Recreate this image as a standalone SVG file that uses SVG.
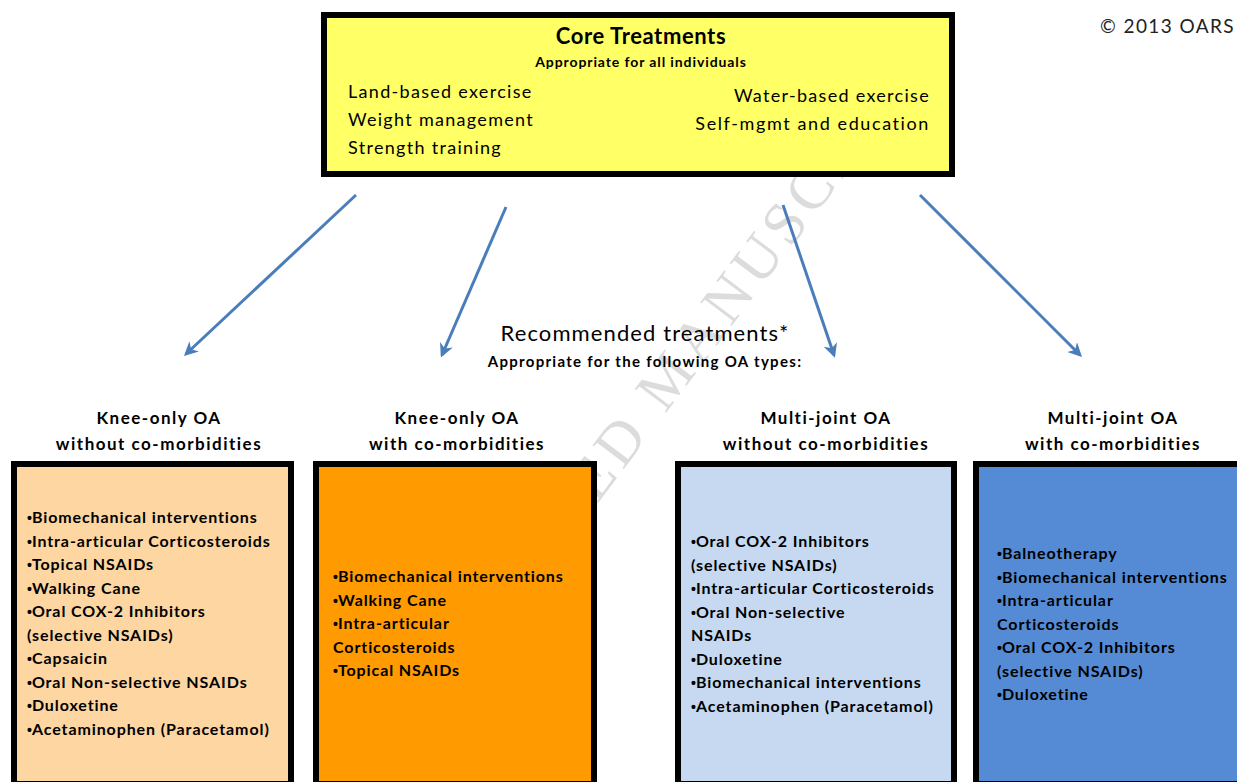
<svg xmlns="http://www.w3.org/2000/svg" width="1237" height="782" viewBox="0 0 1237 782">
<defs>
<style>
text{font-family:Lato,"Noto Sans","Liberation Sans",sans-serif;fill:#000}
.wm{font-family:"Liberation Serif",serif;font-size:60px;fill:#dcdcdc;letter-spacing:6px}
.h{font-size:17px;font-weight:bold;text-anchor:middle;letter-spacing:1.5px}
.li{font-size:16px;font-weight:bold;letter-spacing:0.9px}
.b{font-family:"Liberation Sans",sans-serif;font-size:14px;letter-spacing:0}
.core{font-size:18px;letter-spacing:1.3px}
.box{stroke:#000;stroke-width:6}
.arr{stroke:#4a7ebb;stroke-width:3;fill:none;marker-end:url(#ah)}
</style>
<marker id="ah" viewBox="0 0 10 10" refX="8" refY="5" markerWidth="14" markerHeight="14" markerUnits="userSpaceOnUse" orient="auto">
<path d="M0,0 L10,5 L0,10 L3,5 z" fill="#4a7ebb"/>
</marker>
</defs>
<rect width="1237" height="782" fill="#fff"/>
<text class="wm" x="437" y="717" transform="rotate(-53 437 717)">ACCEPTED MANUSCRIPT</text>

<text x="1100" y="33" style="font-size:19px;fill:#222;letter-spacing:1.4px">© 2013 OARS</text>

<g id="core">
<rect class="box" x="324" y="15" width="628" height="159" fill="#ffff66"/>
<text x="641" y="44" style="font-size:22px;font-weight:bold;letter-spacing:0.6px" text-anchor="middle">Core Treatments</text>
<text x="641" y="67" style="font-size:14px;font-weight:bold;letter-spacing:0.9px" text-anchor="middle">Appropriate for all individuals</text>
<text class="core" x="348" y="98">Land-based exercise</text>
<text class="core" x="348" y="126">Weight management</text>
<text class="core" x="348" y="154">Strength training</text>
<text class="core" x="930" y="102" text-anchor="end">Water-based exercise</text>
<text class="core" x="930" y="130" text-anchor="end" style="letter-spacing:1.6px">Self-mgmt and education</text>
</g>

<g id="connectors">
<line class="arr" x1="356" y1="195" x2="186" y2="354"/>
<line class="arr" x1="506" y1="207" x2="442" y2="355"/>
<line class="arr" x1="783" y1="205" x2="834" y2="355"/>
<line class="arr" x1="920" y1="195" x2="1080" y2="355"/>
</g>

<g id="recommended">
<text x="645" y="341" style="font-size:22px;letter-spacing:1.1px" text-anchor="middle">Recommended treatments*</text>
<text x="645" y="367" style="font-size:15px;font-weight:bold;letter-spacing:1.3px" text-anchor="middle">Appropriate for the following OA types:</text>
</g>

<g id="knee-without">
<text class="h" x="159" y="424">Knee-only OA</text>
<text class="h" x="159" y="450">without co-morbidities</text>
<rect class="box" x="14" y="464" width="277" height="320" fill="#fdd6a2"/>
<text class="li" x="27" y="523"><tspan class="b">•</tspan>Biomechanical interventions</text>
<text class="li" x="27" y="546.5"><tspan class="b">•</tspan>Intra-articular Corticosteroids</text>
<text class="li" x="27" y="570"><tspan class="b">•</tspan>Topical NSAIDs</text>
<text class="li" x="27" y="593.5"><tspan class="b">•</tspan>Walking Cane</text>
<text class="li" x="27" y="617"><tspan class="b">•</tspan>Oral COX-2 Inhibitors</text>
<text class="li" x="27" y="640.5">(selective NSAIDs)</text>
<text class="li" x="27" y="664"><tspan class="b">•</tspan>Capsaicin</text>
<text class="li" x="27" y="687.5"><tspan class="b">•</tspan>Oral Non-selective NSAIDs</text>
<text class="li" x="27" y="711"><tspan class="b">•</tspan>Duloxetine</text>
<text class="li" x="27" y="734.5"><tspan class="b">•</tspan>Acetaminophen (Paracetamol)</text>
</g>

<g id="knee-with">
<text class="h" x="457" y="424">Knee-only OA</text>
<text class="h" x="457" y="450">with co-morbidities</text>
<rect class="box" x="316" y="464" width="278" height="320" fill="#ff9a00"/>
<text class="li" x="333" y="582"><tspan class="b">•</tspan>Biomechanical interventions</text>
<text class="li" x="333" y="605.5"><tspan class="b">•</tspan>Walking Cane</text>
<text class="li" x="333" y="629"><tspan class="b">•</tspan>Intra-articular</text>
<text class="li" x="333" y="652.5">Corticosteroids</text>
<text class="li" x="333" y="676"><tspan class="b">•</tspan>Topical NSAIDs</text>
</g>

<g id="multi-without">
<text class="h" x="826" y="424">Multi-joint OA</text>
<text class="h" x="826" y="450">without co-morbidities</text>
<rect class="box" x="678" y="464" width="276" height="320" fill="#c6d9f1"/>
<text class="li" x="691" y="547"><tspan class="b">•</tspan>Oral COX-2 Inhibitors</text>
<text class="li" x="691" y="570.5">(selective NSAIDs)</text>
<text class="li" x="691" y="594"><tspan class="b">•</tspan>Intra-articular Corticosteroids</text>
<text class="li" x="691" y="617.5"><tspan class="b">•</tspan>Oral Non-selective</text>
<text class="li" x="691" y="641">NSAIDs</text>
<text class="li" x="691" y="664.5"><tspan class="b">•</tspan>Duloxetine</text>
<text class="li" x="691" y="688"><tspan class="b">•</tspan>Biomechanical interventions</text>
<text class="li" x="691" y="711.5"><tspan class="b">•</tspan>Acetaminophen (Paracetamol)</text>
</g>

<g id="multi-with">
<text class="h" x="1113" y="424">Multi-joint OA</text>
<text class="h" x="1113" y="450">with co-morbidities</text>
<rect class="box" x="976" y="464" width="280" height="320" fill="#558bd4"/>
<text class="li" x="997" y="559"><tspan class="b">•</tspan>Balneotherapy</text>
<text class="li" x="997" y="582.5"><tspan class="b">•</tspan>Biomechanical interventions</text>
<text class="li" x="997" y="606"><tspan class="b">•</tspan>Intra-articular</text>
<text class="li" x="997" y="629.5">Corticosteroids</text>
<text class="li" x="997" y="653"><tspan class="b">•</tspan>Oral COX-2 Inhibitors</text>
<text class="li" x="997" y="676.5">(selective NSAIDs)</text>
<text class="li" x="997" y="700"><tspan class="b">•</tspan>Duloxetine</text>
</g>
</svg>
